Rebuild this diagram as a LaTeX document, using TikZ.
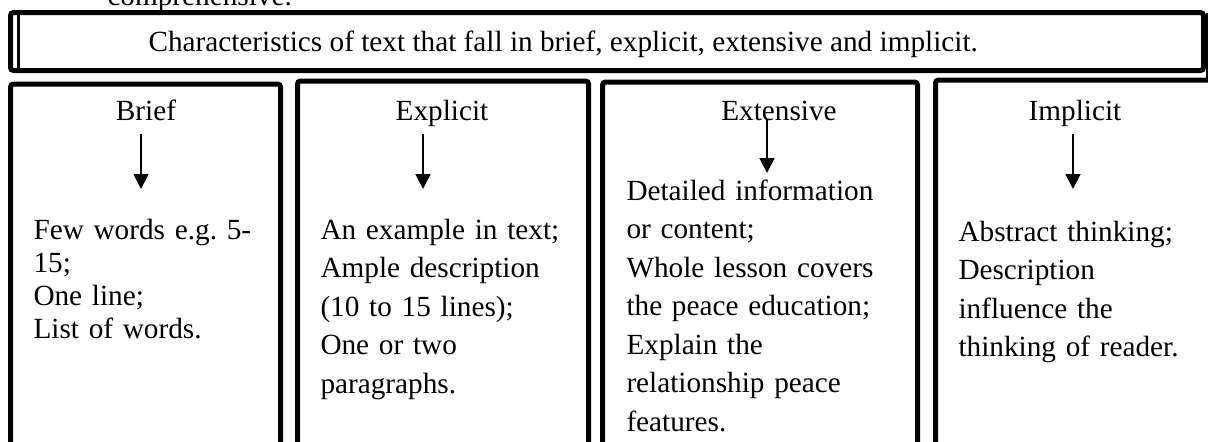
\documentclass[tikz,border=0pt]{standalone}
\usepackage{fontspec}
\setmainfont{Liberation Serif}
\usetikzlibrary{arrows.meta}
\begin{document}
\begin{tikzpicture}[x=0.4pt, y=-0.4pt, >={Triangle[width=6pt,length=6pt]},
      font=\fontsize{11.7}{15.4}\selectfont,
      frame/.style={draw, line width=2pt, rounded corners=1.2pt},
      rule/.style={draw, line width=1.2pt},
      head/.style={anchor=base, inner sep=0pt, text depth=0pt},
      body/.style={anchor=base west, inner sep=0pt, align=left, text width=120pt},
      arr/.style={->, line width=0.7pt}]
    \useasboundingbox (0,0) rectangle (1208,441);
    \draw[frame] (10.5,12.5) rectangle (1203.5,70.5);
    \draw[rule] (18.5,12.5) -- (18.5,70.5);
    \draw[rule] (1207.3,12.5) -- (1207.3,80);
    \draw[frame] (10.5,470) |- (280.5,84) -- (280.5,470);
    \draw[frame] (297.5,470) |- (588.5,81) -- (588.5,470);
    \draw[frame] (602.5,470) |- (917.5,82) -- (917.5,470);
    \draw[frame] (935.5,470) |- (1230,80);
    \node[anchor=base west, inner sep=0pt] (prev) at (107,5) {comprehensive.};
    \node[anchor=base west, inner sep=0pt] (title) at (148,51) {Characteristics of text that fall in brief, explicit, extensive and implicit.};
    \node[head] (brief) at (146,120) {Brief};
    \node[head] (expl) at (442,120) {Explicit};
    \node[head] (ext) at (779,120) {Extensive};
    \node[head] (impl) at (1075,120) {Implicit};
    \node[body, font=\fontsize{11.7}{13.3}\selectfont] (brieftxt) at (33,239) {Few words e.g.\ 5-\\15;\\One line;\\List of words.};
    \node[body] (expltxt) at (320,239) {An example in text;\\Ample description\\(10 to 15 lines);\\One or two\\paragraphs.};
    \node[body] (exttxt) at (626,200) {Detailed information\\or content;\\Whole lesson covers\\the peace education;\\Explain the\\relationship peace\\features.};
    \node[body] (impltxt) at (958,241) {Abstract thinking;\\Description\\influence the\\thinking of reader.};
    \coordinate (btip) at (141,189);
    \coordinate (xtip) at (423,189);
    \coordinate (etip) at (767,173);
    \coordinate (itip) at (1073,189);
    \draw[arr, shorten <=5.2pt] (brief.south -| btip) -- (btip);
    \draw[arr, shorten <=5.2pt] (expl.south -| xtip) -- (xtip);
    \draw[arr, shorten <=-0.8pt] (ext.south -| etip) -- (etip);
    \draw[arr, shorten <=5.2pt] (impl.south -| itip) -- (itip);
  \end{tikzpicture}
\end{document}
